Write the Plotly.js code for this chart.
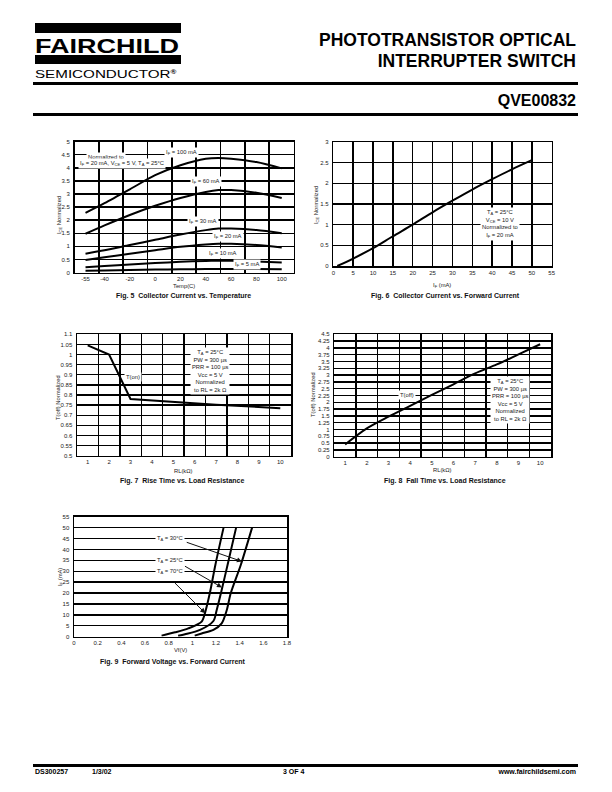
<!DOCTYPE html>
<html>
<head>
<meta charset="utf-8">
<script src="https://cdn.plot.ly/plotly-3.0.1.min.js"></script>
<style>
  html, body { margin:0; padding:0; background:#fff; }
  #page { position:relative; width:612px; height:792px; overflow:hidden; font-family:"Liberation Sans", Arial, sans-serif; }
  #chart { position:absolute; left:0; top:0; width:612px; height:792px; }
  .abs { position:absolute; white-space:nowrap; color:#000; }
  .bar { position:absolute; background:#000; }
</style>
</head>
<body>
<div id="page">
  <div id="chart"></div>
  <!-- header -->
  <div class="bar" style="left:35px; top:23px; width:146px; height:10px;"></div>
  <div class="abs" style="left:35px; top:36px; font-size:20px; font-weight:bold; line-height:20px; transform:scaleX(1.35); transform-origin:left top;">FAIRCHILD</div>
  <div class="bar" style="left:35px; top:55px; width:146px; height:9px;"></div>
  <div class="abs" style="left:35px; top:66px; font-size:11.5px; line-height:12px; transform:scaleX(1.32); transform-origin:left top;">SEMICONDUCTOR<span style="font-size:6px; vertical-align:4px; font-weight:bold;">®</span></div>
  <div class="abs" style="right:36px; top:30px; font-size:17.5px; font-weight:bold; line-height:20px; text-align:right;">PHOTOTRANSISTOR OPTICAL</div>
  <div class="abs" style="right:36px; top:51px; font-size:17.5px; font-weight:bold; line-height:20px; text-align:right;">INTERRUPTER SWITCH</div>
  <div class="bar" style="left:33px; top:82px; width:545px; height:3px;"></div>
  <div class="abs" style="right:36px; top:92px; font-size:16px; font-weight:bold; line-height:18px;">QVE00832</div>
  <div class="bar" style="left:33px; top:113px; width:545px; height:3px;"></div>
  <!-- footer -->
  <div class="bar" style="left:33px; top:764px; width:545px; height:3px;"></div>
  <div class="abs" style="left:35px; top:767px; font-size:7px; font-weight:bold; line-height:9px;">DS300257</div>
  <div class="abs" style="left:92px; top:767px; font-size:7px; font-weight:bold; line-height:9px;">1/3/02</div>
  <div class="abs" style="left:283px; top:767px; font-size:7px; font-weight:bold; line-height:9px;">3 OF 4</div>
  <div class="abs" style="right:36px; top:767px; font-size:7px; font-weight:bold; line-height:9px;">www.fairchildsemi.com</div>
</div>
<script>
// ---------------- DATA ----------------
// Fig. 5 Collector Current vs. Temperature
const fig5Temp   = [-55, -40, -20, 0, 20, 40, 50, 60, 80, 100];
const fig5If100  = [2.28, 2.65, 3.18, 3.72, 4.10, 4.35, 4.38, 4.35, 4.22, 3.98];
const fig5If60   = [1.48, 1.80, 2.20, 2.55, 2.85, 3.08, 3.15, 3.15, 3.05, 2.85];
const fig5If30   = [0.72, 0.85, 1.05, 1.25, 1.45, 1.62, 1.68, 1.68, 1.62, 1.50];
const fig5If20   = [0.48, 0.58, 0.72, 0.85, 0.98, 1.07, 1.10, 1.10, 1.05, 0.96];
const fig5If10   = [0.20, 0.25, 0.31, 0.36, 0.41, 0.44, 0.45, 0.45, 0.42, 0.38];
const fig5If5    = [0.07, 0.08, 0.10, 0.11, 0.12, 0.13, 0.13, 0.13, 0.13, 0.12];
const fig5XTicks = [-55, -40, -20, 0, 20, 40, 60, 80, 100];
const fig5XText  = ["-55", "-40", "-20", "0", "20", "40", "60", "80", "100"];
const fig5YTicks = [0, 0.5, 1, 1.5, 2, 2.5, 3, 3.5, 4, 4.5, 5];
const fig5YText  = ["0", "0.5", "1", "1.5", "2", "2.5", "3", "3.5", "4", "4.5", "5"];

// Fig. 6 Collector Current vs. Forward Current
const fig6If  = [1, 5, 10, 15, 20, 25, 30, 35, 40, 45, 50];
const fig6Ice = [0, 0.18, 0.43, 0.72, 1.0, 1.3, 1.58, 1.85, 2.1, 2.34, 2.56];
const fig6XTicks = [0, 5, 10, 15, 20, 25, 30, 35, 40, 45, 50, 55];
const fig6YTicks = [0, 0.5, 1, 1.5, 2, 2.5, 3];

// Fig. 7 Rise Time vs. Load Resistance
const fig7Rl  = [1, 2, 3, 5, 7, 10];
const fig7Ton = [1.045, 1.0, 0.78, 0.765, 0.752, 0.735];
const rlTicks = [1, 2, 3, 4, 5, 6, 7, 8, 9, 10];
const fig7YTicks = [0.5, 0.55, 0.6, 0.65, 0.7, 0.75, 0.8, 0.85, 0.9, 0.95, 1, 1.05, 1.1];
const fig7YText  = ["0.5", "0.55", "0.6", "0.65", "0.7", "0.75", "0.8", "0.85", "0.9", "0.95", "1", "1.05", "1.1"];

// Fig. 8 Fall Time vs. Load Resistance
const fig8Rl   = [1, 2, 3, 4, 5, 6, 7, 8, 9, 10];
const fig8Toff = [0.45, 1.04, 1.47, 1.87, 2.27, 2.66, 3.06, 3.39, 3.76, 4.13];
const fig8YTicks = [0, 0.25, 0.5, 0.75, 1, 1.25, 1.5, 1.75, 2, 2.25, 2.5, 2.75, 3, 3.25, 3.5, 3.75, 4, 4.25, 4.5];
const fig8YText  = ["0", "0.25", "0.5", "0.75", "1", "1.25", "1.5", "1.75", "2", "2.25", "2.5", "2.75", "3", "3.25", "3.5", "3.75", "4", "4.25", "4.5"];

// Fig. 9 Forward Voltage vs. Forward Current
const fig9If70  = [0.5, 2, 3.8, 6.9, 11.5, 20, 33, 50];
const fig9Vf70  = [0.74, 0.854, 0.966, 1.079, 1.11, 1.148, 1.195, 1.264];
const fig9If25  = [0.4, 1.1, 3.1, 7.2, 12, 20, 33, 50];
const fig9Vf25  = [0.88, 0.938, 1.065, 1.178, 1.205, 1.242, 1.298, 1.37];
const fig9If30  = [0.5, 1.5, 3.1, 6.1, 12, 20, 33, 50];
const fig9Vf30  = [1.02, 1.079, 1.178, 1.248, 1.29, 1.325, 1.41, 1.505];
const fig9XTicks = [0, 0.2, 0.4, 0.6, 0.8, 1, 1.2, 1.4, 1.6, 1.8];
const fig9YTicks = [0, 5, 10, 15, 20, 25, 30, 35, 40, 45, 50, 55];

// ---------------- LAYOUT HELPERS ----------------
const W = 612, H = 792;
const FONT = '"Liberation Sans", Arial, sans-serif';
const fx = p => p / W;
const fy = p => 1 - p / H;
const tickFont = {family: FONT, size: 6, color: '#222'};
const txtFont = {family: FONT, size: 5.8, color: '#222'};

function xAx(l, r, range, anchor, extra) {
  return Object.assign({
    domain: [fx(l), fx(r)], range: range, anchor: anchor,
    showline: true, linecolor: 'black', linewidth: 1.5, mirror: true,
    showgrid: true, gridcolor: 'black', gridwidth: 1.4, zeroline: false,
    ticks: '', tickfont: tickFont, tickmode: 'array', ticklabelstandoff: 0
  }, extra || {});
}
function yAx(t, b, range, anchor, extra) {
  return Object.assign({
    domain: [fy(b), fy(t)], range: range, anchor: anchor,
    showline: true, linecolor: 'black', linewidth: 1.5, mirror: true,
    showgrid: true, gridcolor: 'black', gridwidth: 1.4, zeroline: false,
    ticks: '', tickfont: tickFont, tickmode: 'array', ticklabelstandoff: 2
  }, extra || {});
}
function ln(x, y, xa, ya, shape) {
  return {x: x, y: y, xaxis: xa, yaxis: ya, mode: 'lines', showlegend: false, hoverinfo: 'skip',
          line: {color: 'black', width: 2, shape: shape || 'spline', smoothing: 0.8}};
}
function label(x, y, xr, yr, text, opts) {
  return Object.assign({x: x, y: y, xref: xr, yref: yr, text: text, showarrow: false,
    xanchor: 'center', yanchor: 'middle',
    font: txtFont, bgcolor: 'white', borderpad: 1}, opts || {});
}
function paperText(px, py, text, opts) {
  return Object.assign({x: fx(px), y: fy(py), xref: 'paper', yref: 'paper', text: text,
    xanchor: 'center', yanchor: 'middle',
    showarrow: false, font: txtFont}, opts || {});
}
function caption(px, py, text) {
  return paperText(px, py, '<b>' + text + '</b>', {font: {family: FONT, size: 7, color: '#111'}});
}

// ---------------- TRACES ----------------
const data = [
  ln(fig5Temp, fig5If100, 'x', 'y'),
  ln(fig5Temp, fig5If60, 'x', 'y'),
  ln(fig5Temp, fig5If30, 'x', 'y'),
  ln(fig5Temp, fig5If20, 'x', 'y'),
  ln(fig5Temp, fig5If10, 'x', 'y'),
  ln(fig5Temp, fig5If5, 'x', 'y'),
  ln(fig6If, fig6Ice, 'x2', 'y2'),
  ln(fig7Rl, fig7Ton, 'x3', 'y3', 'linear'),
  ln(fig8Rl, fig8Toff, 'x4', 'y4'),
  ln(fig9Vf70, fig9If70, 'x5', 'y5'),
  ln(fig9Vf25, fig9If25, 'x5', 'y5'),
  ln(fig9Vf30, fig9If30, 'x5', 'y5')
];

const halfGrid = {tick0: 0.5, dtick: 1, showgrid: true, gridcolor: 'black', gridwidth: 1.4, ticks: ''};

const layout = {
  width: W, height: H, margin: {l: 0, r: 0, t: 0, b: 0},
  paper_bgcolor: 'rgba(0,0,0,0)', plot_bgcolor: 'rgba(0,0,0,0)', showlegend: false,
  font: {family: FONT},
  // Fig 5
  xaxis:  xAx(74.5, 293.5, [-63.7, 109.3], 'y', {tickvals: fig5XTicks, ticktext: fig5XText, showgrid: false,
            minor: {tick0: -63.7, dtick: 19.222, showgrid: true, gridcolor: 'black', gridwidth: 1.4, ticks: ''}}),
  yaxis:  yAx(141.7, 272.5, [0, 5], 'x', {tickvals: fig5YTicks, ticktext: fig5YText}),
  // Fig 6
  xaxis2: xAx(333.3, 551.7, [0, 55], 'y2', {tickvals: fig6XTicks}),
  yaxis2: yAx(142, 266, [0, 3], 'x2', {tickvals: fig6YTicks}),
  // Fig 7
  xaxis3: xAx(77, 291, [0.5, 10.5], 'y3', {tickvals: rlTicks, showgrid: false, minor: halfGrid}),
  yaxis3: yAx(334.3, 455.7, [0.5, 1.1], 'x3', {tickvals: fig7YTicks, ticktext: fig7YText}),
  // Fig 8
  xaxis4: xAx(334.3, 551, [0.5, 10.5], 'y4', {tickvals: rlTicks, showgrid: false, minor: halfGrid}),
  yaxis4: yAx(334.2, 456.7, [0, 4.5], 'x4', {tickvals: fig8YTicks, ticktext: fig8YText}),
  // Fig 9
  xaxis5: xAx(74, 287, [0, 1.8], 'y5', {tickvals: fig9XTicks, showgrid: false}),
  yaxis5: yAx(516.7, 636.7, [0, 55], 'x5', {tickvals: fig9YTicks}),
  annotations: [
    // Fig 5 texts
    label(-54.6, 4.43, 'x', 'y', 'Normalized to', {xanchor: 'left'}),
    label(-61, 4.18, 'x', 'y', 'I<sub>F</sub> = 20 mA, V<sub>CE</sub> = 5 V, T<sub>A</sub> = 25°C', {xanchor: 'left'}),
    label(21, 4.6, 'x', 'y', 'I<sub>F</sub> = 100 mA'),
    label(40, 3.49, 'x', 'y', 'I<sub>F</sub> = 60 mA'),
    label(38, 1.95, 'x', 'y', 'I<sub>F</sub> = 30 mA'),
    label(57.6, 1.39, 'x', 'y', 'I<sub>F</sub> = 20 mA'),
    label(53.6, 0.72, 'x', 'y', 'I<sub>F</sub> = 10 mA'),
    label(72.6, 0.29, 'x', 'y', 'I<sub>F</sub> = 5 mA'),
    // Fig 6 text
    label(42, 1.02, 'x2', 'y2', 'T<sub>A</sub> = 25°C<br>V<sub>CE</sub> = 10 V<br>Normalized to<br>I<sub>F</sub> = 20 mA'),
    // Fig 7 texts
    label(3.13, 0.891, 'x3', 'y3', 'T(on)'),
    label(6.7, 0.92, 'x3', 'y3', 'T<sub>A</sub> = 25°C<br>PW = 300 µs<br>PRR = 100 µs<br>Vcc = 5 V<br>Normalized<br>to RL = 2k Ω'),
    // Fig 8 texts
    label(3.84, 2.27, 'x4', 'y4', 'T(off)'),
    label(8.6, 2.08, 'x4', 'y4', 'T<sub>A</sub> = 25°C<br>PW = 300 µs<br>PRR = 100 µs<br>Vcc = 5 V<br>Normalized<br>to RL = 2k Ω'),
    // Fig 9 texts + arrows
    label(0.81, 45, 'x5', 'y5', 'T<sub>A</sub> = 30°C'),
    label(0.81, 35, 'x5', 'y5', 'T<sub>A</sub> = 25°C'),
    label(0.81, 30, 'x5', 'y5', 'T<sub>A</sub> = 70°C'),
    {x: 1.419, y: 34.5, ax: 0.94, ay: 43.5, xref: 'x5', yref: 'y5', axref: 'x5', ayref: 'y5', text: '', showarrow: true, arrowhead: 2, arrowsize: 1, arrowwidth: 1, arrowcolor: '#111'},
    {x: 1.25, y: 22.6, ax: 0.925, ay: 32.7, xref: 'x5', yref: 'y5', axref: 'x5', ayref: 'y5', text: '', showarrow: true, arrowhead: 2, arrowsize: 1, arrowwidth: 1, arrowcolor: '#111'},
    {x: 1.109, y: 10.8, ax: 0.84, ay: 25.3, xref: 'x5', yref: 'y5', axref: 'x5', ayref: 'y5', text: '', showarrow: true, arrowhead: 2, arrowsize: 1, arrowwidth: 1, arrowcolor: '#111'},
    // axis titles
    paperText(60, 215, 'I<sub>CE</sub> Normalized', {textangle: -90}),
    paperText(184, 286, 'Temp(C)'),
    paperText(316, 205, 'I<sub>CE</sub> Normalized', {textangle: -90}),
    paperText(442, 285, 'I<sub>F</sub> (mA)'),
    paperText(58, 398, 'T(off) Normalized', {textangle: -90}),
    paperText(183, 471, 'RL(kΩ)'),
    paperText(313, 395, 'T(off) Normalized', {textangle: -90}),
    paperText(442, 470, 'RL(kΩ)'),
    paperText(60, 577, 'I<sub>F</sub> (mA)', {textangle: -90}),
    paperText(180, 650, 'Vf(V)'),
    // captions
    caption(183, 296, 'Fig. 5  Collector Current vs. Temperature'),
    caption(445, 296, 'Fig. 6  Collector Current vs. Forward Current'),
    caption(182, 481, 'Fig. 7  Rise Time vs. Load Resistance'),
    caption(445, 481, 'Fig. 8  Fall Time vs. Load Resistance'),
    caption(173, 662, 'Fig. 9  Forward Voltage vs. Forward Current')
  ]
};

Plotly.newPlot('chart', data, layout, {staticPlot: true, displayModeBar: false});
</script>
</body>
</html>
